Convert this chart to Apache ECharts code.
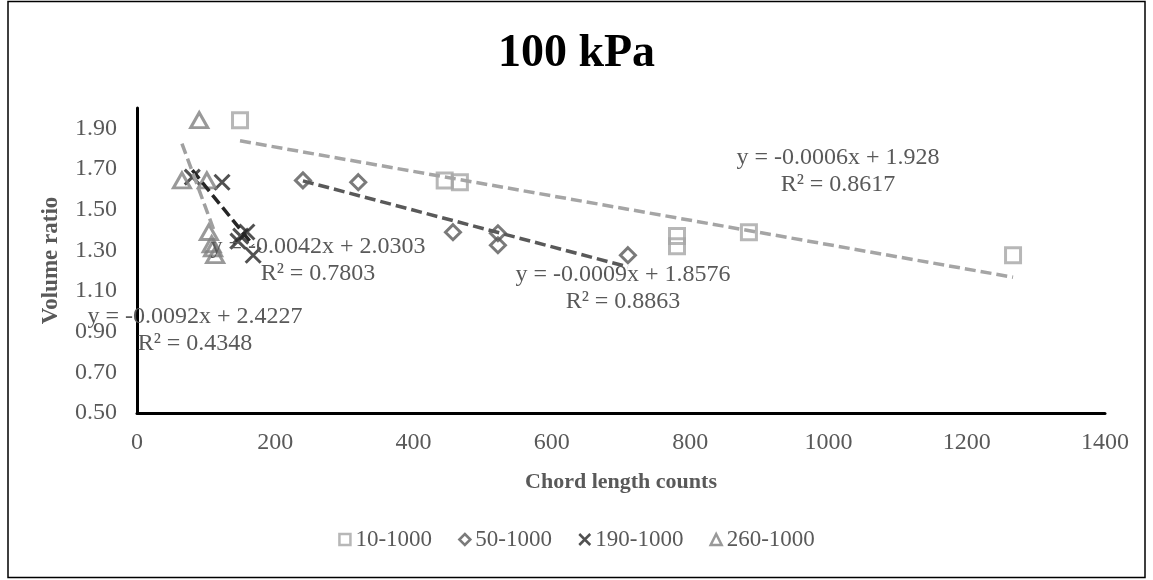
<!DOCTYPE html>
<html>
<head>
<meta charset="utf-8">
<script src="https://cdn.jsdelivr.net/npm/echarts@6/dist/echarts.min.js"></script>
<style>
  html, body { margin: 0; padding: 0; background: #fff; }
  #main { width: 1153px; height: 580px; }
</style>
</head>
<body>
<div id="main"></div>
<script>
var FONT = "'Liberation Serif', 'Times New Roman', serif"

// series names
var names = ['10-1000', '50-1000', '190-1000', '260-1000']

// [chord length counts, volume ratio]
var s10 = [[149, 1.94], [445, 1.644], [467, 1.635], [781, 1.37], [781, 1.32], [885, 1.389], [1267, 1.276]]
var s50 = [[240, 1.644], [320, 1.635], [457, 1.389], [522, 1.384], [522, 1.325], [710, 1.276]]
var s190 = [[80, 1.66], [123, 1.635], [159, 1.39], [150, 1.37], [146, 1.345], [168, 1.276]]
var s260 = [[90, 1.94], [65, 1.644], [101, 1.644], [104, 1.39], [108, 1.33], [110, 1.31], [113, 1.276]]

// linear trendlines shown on the chart
var slopes = [-0.0006, -0.0009, -0.0042, -0.0092]
var intercepts = [1.928, 1.8576, 2.0303, 2.4227]
var r2 = ['0.8617', '0.8863', '0.7803', '0.4348']

var yTicks = [0.5, 0.7, 0.9, 1.1, 1.3, 1.5, 1.7, 1.9]
var xTicks = [0, 200, 400, 600, 800, 1000, 1200, 1400]

var allData = [s10, s50, s190, s260]
var markerColors = ['#A5A5A5', '#595959', '#262626', '#7F7F7F']
var lineColors = ['#A5A5A5', '#595959', '#262626', '#A0A0A0']
var symbols = [
  'rect',
  'diamond',
  'path://M0,0L10,10M10,0L0,10',
  'triangle'
]
var symbolSizes = [[15, 15], [15, 15], [15, 15], [17, 15]]

// where the equation labels sit (centre of the first line, px)
var labelPos = [[838, 158], [623, 275], [318, 247], [195, 317]]

function trend(i) {
  var xs = allData[i].map(function (d) { return d[0] })
  var x0 = Math.min.apply(Math, xs)
  var x1 = Math.max.apply(Math, xs)
  return [[x0, slopes[i] * x0 + intercepts[i]], [x1, slopes[i] * x1 + intercepts[i]]]
}

function eqText(i) {
  return 'y = ' + slopes[i] + 'x + ' + intercepts[i] + '\nR² = ' + r2[i]
}

var chart = echarts.init(document.getElementById('main'))

var series = []
for (var i = 0; i < 4; i++) {
  series.push({
    name: names[i] + ' trend',
    type: 'line',
    data: trend(i),
    symbol: 'none',
    silent: true,
    z: 3,
    lineStyle: { color: lineColors[i], width: 3.5, type: [11, 5] }
  })
}
for (var i = 0; i < 4; i++) {
  series.push({
    name: names[i],
    type: 'scatter',
    data: allData[i],
    symbol: symbols[i],
    symbolSize: symbolSizes[i],
    z: 2,
    itemStyle: {
      color: 'rgba(255,255,255,0)',
      borderColor: markerColors[i],
      borderWidth: 3
    }
  })
}

// outer frame
var graphics = [{
  type: 'rect',
  shape: { x: 8, y: 1.5, width: 1137, height: 576 },
  style: { fill: 'none', stroke: '#000', lineWidth: 1.5 },
  z: 100
}]
// trendline equations
for (var i = 0; i < 4; i++) {
  graphics.push({
    type: 'text',
    x: labelPos[i][0],
    y: labelPos[i][1] + 13,
    z: 100,
    style: {
      text: eqText(i),
      fill: '#595959',
      font: '24px ' + FONT,
      align: 'center',
      verticalAlign: 'middle',
      lineHeight: 27
    }
  })
}

var option = {
  backgroundColor: '#fff',
  animation: false,
  textStyle: { fontFamily: FONT },
  title: {
    text: '100 kPa',
    left: 'center',
    top: 26,
    textStyle: { fontSize: 46, fontWeight: 'bold', color: '#000', fontFamily: FONT }
  },
  legend: {
    data: names,
    bottom: 24,
    left: 'center',
    itemWidth: 11,
    itemHeight: 11,
    itemGap: 26,
    itemStyle: { borderWidth: 2.5 },
    textStyle: { fontSize: 23, color: '#595959', fontFamily: FONT }
  },
  grid: { left: 137, right: 48, top: 108, bottom: 167 },
  xAxis: {
    type: 'value',
    min: 0,
    max: 1400,
    interval: 200,
    name: 'Chord length counts',
    nameLocation: 'middle',
    nameGap: 58,
    nameTextStyle: { fontSize: 22, fontWeight: 'bold', color: '#595959', fontFamily: FONT },
    axisLine: { show: true, onZero: false, lineStyle: { color: '#000', width: 3 } },
    axisTick: { show: false },
    splitLine: { show: false },
    axisLabel: {
      customValues: xTicks,
      fontSize: 24,
      color: '#595959',
      margin: 18,
      fontFamily: FONT,
      formatter: function (v) { return String(v) }
    }
  },
  yAxis: {
    type: 'value',
    min: 0.5,
    max: 2.0,
    name: 'Volume ratio',
    nameLocation: 'middle',
    nameGap: 74,
    nameTextStyle: { fontSize: 23, fontWeight: 'bold', color: '#595959', fontFamily: FONT },
    axisLine: { show: true, onZero: false, lineStyle: { color: '#000', width: 3 } },
    axisTick: { show: false },
    splitLine: { show: false },
    axisLabel: {
      customValues: yTicks,
      fontSize: 24,
      color: '#595959',
      margin: 20,
      fontFamily: FONT,
      formatter: function (v) { return v.toFixed(2) }
    }
  },
  graphic: graphics,
  series: series
}

chart.setOption(option)
</script>
</body>
</html>
